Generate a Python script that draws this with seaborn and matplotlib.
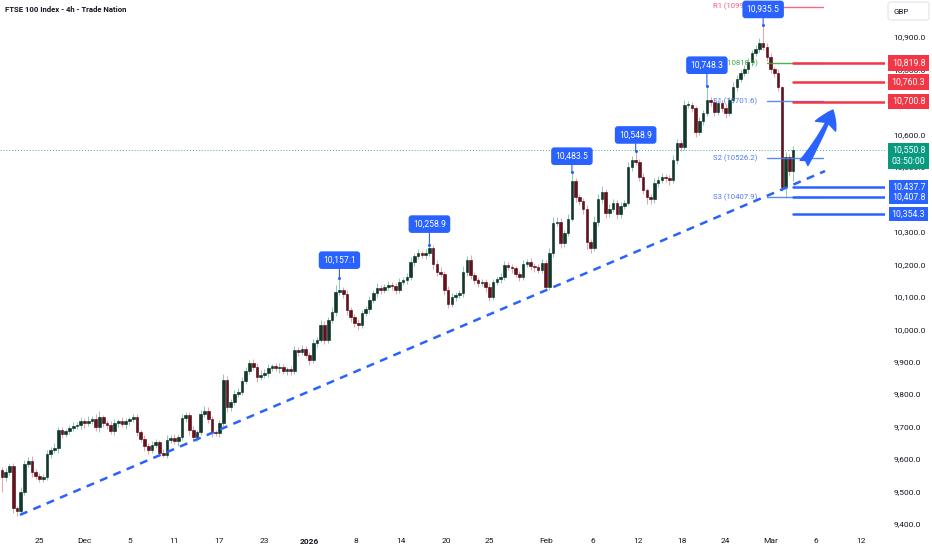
import matplotlib
matplotlib.use("Agg")
import matplotlib.pyplot as plt
import seaborn as sns
import numpy as np
from matplotlib.patches import FancyBboxPatch

# ---------------- data ----------------
closes = [
    9545, 9560, 9578, 9450, 9440, 9500, 9585, 9595, 9560, 9548,
    9540, 9545, 9615, 9628, 9634, 9688, 9678, 9685, 9695, 9702,
    9705, 9716, 9710, 9718, 9722, 9698, 9728, 9710, 9705, 9685,
    9712, 9716, 9708, 9716, 9722, 9728, 9682, 9662, 9640, 9628,
    9643, 9652, 9620, 9612, 9660, 9665, 9655, 9668, 9726, 9735,
    9690, 9668, 9683, 9740, 9748, 9722, 9682, 9680, 9710, 9845,
    9760, 9775, 9800, 9808, 9840, 9870, 9896, 9885, 9852, 9860,
    9866, 9880, 9886, 9880, 9884, 9872, 9876, 9870, 9935, 9930,
    9938, 9922, 9905, 9957, 9967, 10013, 9967, 10028, 10053, 10115,
    10120, 10108, 10060, 10037, 10020, 10013, 10050, 10062, 10090, 10110,
    10127, 10120, 10130, 10136, 10134, 10120, 10145, 10150, 10160, 10207,
    10225, 10234, 10228, 10236, 10250, 10200, 10176, 10170, 10120, 10078,
    10100, 10105, 10110, 10175, 10213, 10167, 10150, 10142, 10145, 10130,
    10100, 10145, 10155, 10160, 10197, 10190, 10188, 10170, 10160, 10200,
    10207, 10195, 10191, 10182, 10205, 10130, 10234, 10327, 10330, 10265,
    10296, 10340, 10455, 10407, 10395, 10370, 10268, 10250, 10330, 10400,
    10422, 10357, 10370, 10389, 10355, 10380, 10389, 10500, 10520, 10515,
    10470, 10428, 10407, 10400, 10450, 10460, 10470, 10465, 10460, 10520,
    10573, 10561, 10690, 10690, 10680, 10607, 10640, 10666, 10706, 10700,
    10670, 10697, 10680, 10666, 10706, 10746, 10770, 10789, 10800, 10824,
    10850, 10862, 10881, 10870, 10838, 10800, 10790, 10745, 10438, 10530,
    10488, 10551,
]
first_open = 9565

wick_up = [
    10, 12, 8, 10, 6, 15, 12, 10, 14, 8,
    10, 8, 12, 10, 14, 12, 10, 8, 10, 12,
    8, 12, 10, 14, 10, 18, 20, 8, 10, 12,
    10, 8, 12, 10, 8, 12, 10, 8, 12, 10,
    12, 10, 8, 10, 14, 10, 12, 8, 12, 10,
    10, 12, 8, 10, 14, 12, 10, 8, 10, 18,
    12, 10, 14, 10, 12, 15, 10, 12, 10, 15,
    10, 12, 8, 10, 12, 10, 8, 10, 14, 10,
    12, 10, 8, 12, 10, 15, 12, 10, 14, 20,
    37, 10, 12, 8, 10, 12, 10, 8, 12, 10,
    14, 10, 8, 12, 10, 8, 12, 10, 12, 15,
    10, 12, 8, 10, 9, 10, 12, 15, 10, 12,
    10, 8, 12, 20, 12, 15, 10, 12, 8, 10,
    12, 10, 8, 12, 14, 10, 12, 8, 10, 14,
    10, 12, 8, 10, 12, 8, 15, 20, 15, 12,
    10, 15, 28, 12, 10, 8, 12, 10, 20, 15,
    18, 10, 15, 12, 10, 12, 10, 15, 14, 29,
    10, 12, 8, 10, 15, 12, 10, 8, 10, 15,
    12, 10, 15, 12, 10, 8, 12, 10, 42, 10,
    12, 10, 8, 12, 10, 15, 12, 10, 14, 12,
    10, 12, 15, 54, 10, 12, 8, 10, 5, 15,
    10, 12,
]
wick_dn = [
    45, 12, 10, 15, 15, 10, 12, 8, 14, 10,
    12, 10, 8, 12, 10, 14, 12, 10, 8, 10,
    10, 12, 14, 8, 10, 12, 15, 10, 12, 8,
    10, 12, 8, 14, 10, 8, 12, 10, 14, 12,
    10, 8, 10, 6, 10, 12, 10, 14, 8, 12,
    15, 10, 12, 8, 10, 12, 14, 10, 12, 8,
    15, 12, 10, 8, 12, 10, 8, 12, 15, 10,
    10, 12, 8, 10, 14, 10, 12, 10, 8, 12,
    10, 12, 15, 10, 12, 8, 14, 10, 8, 12,
    10, 12, 15, 14, 12, 15, 10, 8, 12, 10,
    10, 12, 8, 10, 14, 12, 10, 8, 12, 10,
    12, 10, 8, 12, 10, 14, 12, 10, 15, 12,
    10, 12, 8, 10, 12, 14, 10, 12, 8, 15,
    12, 10, 8, 12, 10, 8, 14, 10, 12, 10,
    10, 12, 14, 10, 8, 12, 10, 12, 10, 14,
    12, 10, 8, 14, 12, 15, 20, 15, 10, 12,
    10, 14, 12, 10, 15, 12, 10, 8, 12, 10,
    15, 12, 20, 15, 10, 12, 10, 12, 15, 10,
    10, 12, 10, 8, 12, 15, 10, 12, 10, 12,
    14, 10, 12, 15, 10, 8, 12, 10, 8, 10,
    12, 10, 8, 10, 12, 10, 14, 12, 13, 33,
    15, 33,
]

tick_pos = [10, 22, 34, 46, 58, 70, 82, 94.5, 106.5, 118.5, 130,
            145, 157.5, 169.5, 181.5, 193, 205, 217, 229]
tick_labels = ["25", "Dec", "5", "11", "17", "23", "2026", "8", "14", "20", "25",
               "Feb", "6", "12", "18", "24", "Mar", "6", "12"]
price_ticks = [9400, 9500, 9600, 9700, 9800, 9900, 10000, 10100, 10200,
               10300, 10400, 10500, 10600, 10700, 10800, 10900]
hidden_price_ticks = [10400, 10700]   # fully covered by the level boxes

callout_bar = [90, 114, 152, 169, 188, 203]
callout_val = [10157.1, 10258.9, 10483.5, 10548.9, 10748.3, 10935.5]
callout_off = [18, 21, 16, 16, 21, 16]

red_levels = [10819.8, 10760.3, 10700.8]
blue_levels = [10437.7, 10407.8, 10354.3]
last_price = 10550.8
countdown = "03:50:00"

pivot_names = ["R1", "P", "S1", "S2", "S3"]
pivot_vals = [10993.4, 10818.9, 10701.6, 10526.2, 10407.9]
pivot_cols = ["#ef5a7a", "#43a047", "#4d7cf0", "#4d7cf0", "#4d7cf0"]

trend_x = [4.8, 219.5]
trend_y = [9428, 10487]
arrow_from = (213.9, 10512)
arrow_to = (221.6, 10675)

title = "FTSE 100 Index - 4h - Trade Nation"

# ---------------- style ----------------
sns.set_theme(style="white")
plt.rcParams["font.family"] = ["Roboto", "DejaVu Sans"]

UP_BODY, UP_EDGE, UP_WICK = "#0f3a2b", "#09251b", "#86cdb0"
DN_BODY, DN_EDGE, DN_WICK = "#6e0e1c", "#3a070e", "#f2a0aa"
BLUE = "#2962ff"
RED = "#f23645"
TEAL = "#089981"
TXT = "#131722"

W, H = 932, 550
fig = plt.figure(figsize=(W / 100, H / 100), dpi=100)
fig.patch.set_facecolor("white")
ax = fig.add_axes([0, 20 / H, 885 / W, 530 / H])
ax.set_facecolor("white")

x = np.arange(len(closes))
c = np.array(closes, dtype=float)
o = np.array([first_open] + closes[:-1], dtype=float)
hi = np.maximum(o, c) + np.array(wick_up)
lo = np.minimum(o, c) - np.array(wick_dn)
up = c >= o

# wicks
ax.vlines(x[up], lo[up], hi[up], color=UP_WICK, lw=0.7, zorder=2)
ax.vlines(x[~up], lo[~up], hi[~up], color=DN_WICK, lw=0.7, zorder=2)
# bodies
body_h = np.maximum(np.abs(c - o), 2.0)
body_b = np.minimum(o, c)
ax.bar(x[up], body_h[up], bottom=body_b[up], width=0.7, color=UP_BODY,
       edgecolor=UP_EDGE, linewidth=0.4, zorder=3)
ax.bar(x[~up], body_h[~up], bottom=body_b[~up], width=0.7, color=DN_BODY,
       edgecolor=DN_EDGE, linewidth=0.4, zorder=3)

# dashed trend line
sns.lineplot(x=trend_x, y=trend_y, ax=ax, color=BLUE, lw=1.8,
             linestyle=(0, (3.2, 2.6)), zorder=4)

# current price dotted line
ax.axhline(last_price, color=TEAL, lw=0.7, ls=(0, (1, 2)), alpha=0.8, zorder=1)

xmin, xmax = -0.53, 235.5
ax.set_xlim(xmin, xmax)
ax.set_ylim(9381.5, 11013.8)

# pivot lines and labels
for name, val, col in zip(pivot_names, pivot_vals, pivot_cols):
    ax.plot([204, 219], [val, val], color=col, lw=1.0, alpha=0.9, zorder=5)
    ax.text(201.5, val, f"{name} ({val:.1f})", color=col, fontsize=5.6,
            ha="right", va="center", zorder=5)

# red resistance lines & blue support lines
for v in red_levels:
    ax.plot([210.9, xmax], [v, v], color=RED, lw=1.8, zorder=6)
for v in blue_levels:
    ax.plot([210.9, xmax], [v, v], color=BLUE, lw=1.8, zorder=6)

# blue arrow
ax.annotate("", xy=arrow_to, xytext=arrow_from,
            arrowprops=dict(arrowstyle="fancy,head_length=0.75,head_width=0.95,tail_width=0.4",
                            color=BLUE, mutation_scale=17, shrinkA=0, shrinkB=0,
                            connectionstyle="arc3,rad=0.05"), zorder=7)

# callouts
for b, v, off in zip(callout_bar, callout_val, callout_off):
    ax.annotate(f"{v:,.1f}", xy=(b, v), xytext=(0, off), textcoords="offset pixels",
                ha="center", va="center", color="white", fontsize=6.2,
                bbox=dict(boxstyle="round,pad=0.5,rounding_size=0.35", fc=BLUE, ec="none"),
                arrowprops=dict(arrowstyle="-", color=BLUE, lw=0.8, shrinkA=0, shrinkB=0),
                zorder=15)
ax.scatter(callout_bar, callout_val, s=5, color=BLUE, zorder=16, linewidths=0)

# axes formatting
for s in ax.spines.values():
    s.set_visible(False)
ax.yaxis.tick_right()
ax.set_yticks(price_ticks)
ax.set_yticklabels(["" if p in hidden_price_ticks else f"{p:,.1f}" for p in price_ticks])
ax.tick_params(axis="y", length=0, pad=6, labelsize=6, labelcolor=TXT)
ax.set_xticks(tick_pos)
ax.set_xticklabels(tick_labels)
ax.tick_params(axis="x", length=0, pad=6, labelsize=6, labelcolor=TXT)
for lab in ax.get_xticklabels():
    if lab.get_text() == "2026":
        lab.set_fontweight("bold")
ax.grid(False)

# price boxes on the scale
ytr = ax.get_yaxis_transform()
xc = 908.5 / 885
for v in red_levels:
    ax.text(xc, v, f"{v:,.1f}", transform=ytr, ha="center", va="center", color="white",
            fontsize=6.3, clip_on=False, zorder=20,
            bbox=dict(boxstyle="square,pad=0.38", fc=RED, ec="none"))
for v in blue_levels:
    ax.text(xc, v, f"{v:,.1f}", transform=ytr, ha="center", va="center", color="white",
            fontsize=6.3, clip_on=False, zorder=20,
            bbox=dict(boxstyle="square,pad=0.3", fc=BLUE, ec="none"))
ax.annotate(f"{last_price:,.1f}\n{countdown}", xy=(xc, last_price), xycoords=ytr,
            xytext=(0, -5.5), textcoords="offset pixels", ha="center", va="center",
            color="white", fontsize=6.3, linespacing=1.25, annotation_clip=False, zorder=20,
            bbox=dict(boxstyle="square,pad=0.38", fc=TEAL, ec="none"))

# GBP box
fig.patches.append(FancyBboxPatch((888 / W, 1 - 20 / H), 41 / W, 18 / H,
                                  boxstyle="round,pad=0,rounding_size=0.004",
                                  transform=fig.transFigure, fc="white",
                                  ec="#e0e3eb", lw=0.8))
fig.text(893 / W, 1 - 11.5 / H, "GBP", fontsize=5.8, color=TXT, ha="left", va="center")

# title
fig.text(5 / W, 1 - 10 / H, title, fontsize=5.6, fontweight="bold", color=TXT,
         ha="left", va="center")

fig.savefig("out.png", dpi=100, facecolor="white")
